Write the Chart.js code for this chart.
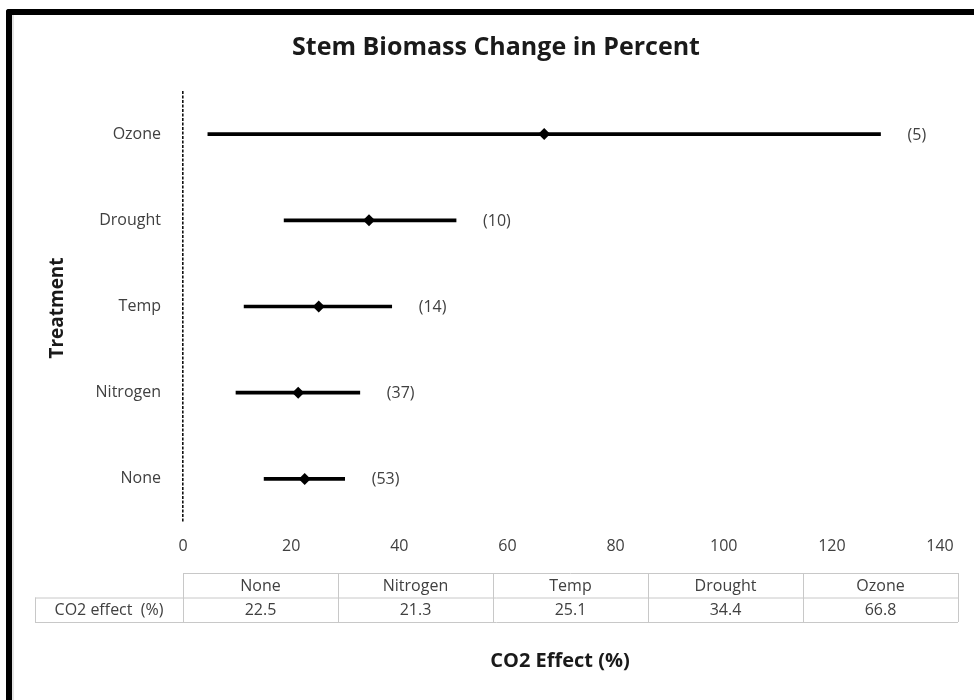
<!DOCTYPE html>
<html>
<head>
<meta charset="utf-8">
<title>Stem Biomass Change in Percent</title>
<script src="https://cdn.jsdelivr.net/npm/chart.js@4"></script>
<style>
  html, body { margin: 0; padding: 0; background: #fff; }
  #wrap { position: relative; width: 974px; height: 700px; overflow: hidden; }
  #frame {
    position: absolute; left: 6px; top: 9px; right: -20px; bottom: -20px;
    border-top: 6px solid #000; border-left: 6px solid #000;
    border-top-left-radius: 3px;
    box-shadow: inset 2px 0 0 #e4e4e4;
  }
  #chart { position: absolute; left: 0; top: 0; }
</style>
</head>
<body>
<div id="wrap">
  <div id="frame"></div>
  <canvas id="chart" width="974" height="700"></canvas>
</div>
<script>
// Treatments, bottom to top (same order as the summary table)
const treatments = ['None', 'Nitrogen', 'Temp', 'Drought', 'Ozone'];
const meanEffect = [22.5, 21.3, 25.1, 34.4, 66.8];
const ciLow = [15.0, 9.8, 11.3, 18.7, 4.6];
const ciHigh = [29.9, 32.7, 38.6, 50.5, 129.0];
const studyCounts = [53, 37, 14, 10, 5];
const xTicks = [0, 20, 40, 60, 80, 100, 120, 140];
const rowLabel = 'CO2 effect  (%)';

const FONT = '"Open Sans", Carlito, Lato, sans-serif';
const TEXT = '#404040';

// Title, counts, summary table and axis titles
const extras = {
  id: 'extras',
  afterDraw(chart) {
    const ctx = chart.ctx;
    const xs = chart.scales.x, ys = chart.scales.y;
    ctx.save();

    // title
    ctx.fillStyle = '#1a1a1a';
    ctx.font = 'bold 25px ' + FONT;
    ctx.textAlign = 'center';
    ctx.textBaseline = 'middle';
    ctx.fillText('Stem Biomass Change in Percent', 496, 48);

    // study counts right of each interval
    ctx.font = '16px ' + FONT;
    ctx.fillStyle = TEXT;
    ctx.textAlign = 'left';
    treatments.forEach((t, i) => {
      ctx.fillText('(' + studyCounts[i] + ')', xs.getPixelForValue(ciHigh[i]) + 27, ys.getPixelForValue(i) + 1);
    });

    // y axis title
    ctx.save();
    ctx.translate(58, 308);
    ctx.rotate(-Math.PI / 2);
    ctx.font = 'bold 19px ' + FONT;
    ctx.fillStyle = '#1a1a1a';
    ctx.textAlign = 'center';
    ctx.fillText('Treatment', 0, 0);
    ctx.restore();

    // summary table
    const left = 183, colW = 155, top = 573, rowH = 24.5, labelLeft = 35;
    const right = left + colW * treatments.length;
    ctx.strokeStyle = '#c8c8c8';
    ctx.lineWidth = 1;
    ctx.beginPath();
    ctx.moveTo(left, top + 0.5); ctx.lineTo(right, top + 0.5);
    ctx.moveTo(labelLeft, top + rowH + 0.5); ctx.lineTo(right, top + rowH + 0.5);
    ctx.moveTo(labelLeft, top + 2 * rowH + 0.5); ctx.lineTo(right, top + 2 * rowH + 0.5);
    ctx.moveTo(labelLeft + 0.5, top + rowH); ctx.lineTo(labelLeft + 0.5, top + 2 * rowH);
    for (let c = 0; c <= treatments.length; c++) {
      const x = left + c * colW + 0.5;
      ctx.moveTo(x, top); ctx.lineTo(x, top + 2 * rowH);
    }
    ctx.stroke();

    ctx.font = '16px ' + FONT;
    ctx.fillStyle = TEXT;
    ctx.textAlign = 'center';
    treatments.forEach((t, i) => {
      const cx = left + colW * (i + 0.5);
      ctx.fillText(t, cx, top + rowH / 2 + 1);
      ctx.fillText(meanEffect[i].toFixed(1), cx, top + rowH * 1.5 + 1);
    });
    ctx.fillText(rowLabel, (labelLeft + left) / 2, top + rowH * 1.5 + 1);

    // x axis title
    ctx.font = 'bold 20px ' + FONT;
    ctx.fillStyle = '#1a1a1a';
    ctx.fillText('CO2 Effect (%)', 560, 661);

    ctx.restore();
  }
};

new Chart(document.getElementById('chart'), {
  type: 'bar',
  data: {
    labels: treatments,
    datasets: [
      {
        label: 'Mean',
        type: 'line',
        indexAxis: 'y',
        data: meanEffect,
        showLine: false,
        pointStyle: 'rectRot',
        pointRadius: 6,
        pointBackgroundColor: '#000',
        pointBorderColor: '#000',
        pointBorderWidth: 0,
        order: 0
      },
      {
        label: 'Interval',
        data: treatments.map((t, i) => [ciLow[i], ciHigh[i]]),
        backgroundColor: '#000',
        barThickness: 3,
        order: 1
      }
    ]
  },
  options: {
    indexAxis: 'y',
    responsive: false,
    animation: false,
    layout: { padding: { left: 20, top: 91, right: 34, bottom: 0 } },
    plugins: {
      legend: { display: false },
      tooltip: { enabled: false }
    },
    scales: {
      x: {
        type: 'linear',
        min: 0,
        max: 140,
        afterBuildTicks: s => { s.ticks = xTicks.map(v => ({ value: v })); },
        afterFit: s => { s.height = 700 - 522; },
        // only the zero line is shown, dashed
        grid: {
          display: true,
          drawTicks: false,
          lineWidth: 1.6,
          color: c => (c.tick && c.tick.value === 0 ? '#111' : 'rgba(0,0,0,0)')
        },
        border: { display: false, dash: [3, 1.5] },
        ticks: { padding: 15, color: TEXT, font: { family: FONT, size: 16 } }
      },
      y: {
        type: 'category',
        reverse: true,
        offset: true,
        afterFit: s => { s.width = 183 - 20; },
        grid: { display: false, drawTicks: false },
        border: { display: false },
        ticks: { padding: 22, color: TEXT, font: { family: FONT, size: 16 } }
      }
    }
  },
  plugins: [extras]
});
</script>
</body>
</html>
